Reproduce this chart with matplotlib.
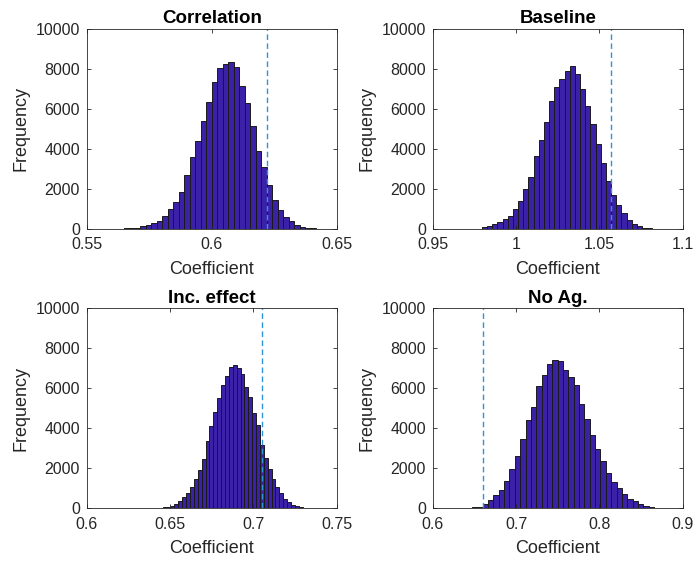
import matplotlib.pyplot as plt
import numpy as np

plt.rcParams['font.family'] = ['Liberation Sans', 'DejaVu Sans']

# histogram counts (tiny tails included)
corr_counts = [3, 6, 12, 25, 40,
               70, 130, 200, 300, 420, 640, 1000, 1370, 1870, 2690, 3580, 4400,
               5380, 6340, 7370, 8030, 8240, 8360, 8090, 7140, 6290, 5150, 3880,
               3110, 2190, 1470, 970, 600, 385, 220, 100, 50,
               25, 10, 4, 2]
corr_start = 0.5693 - 5 * 0.0022
corr_width = 0.0022
corr_line = 0.622

base_counts = [2, 5, 10,
               15, 80, 130, 230, 350, 480, 650, 990, 1420, 1990, 2590, 3630,
               4430, 5370, 6420, 7090, 7490, 7890, 8130, 7760, 7020, 6170, 5230,
               4230, 3280, 2390, 1720, 1190, 790, 430, 270, 130, 70, 35,
               15, 6, 2]
base_start = 0.9764 - 3 * 0.0031
base_width = 0.0031
base_line = 1.057

inc_counts = [2, 3, 5, 8, 15, 30, 50,
              80, 130, 200, 350, 550, 780, 1080, 1470, 1900, 2470, 3380, 4130,
              4800, 5520, 6150, 6630, 7050, 7180, 7000, 6730, 6080, 5550, 4780,
              4150, 3180, 2530, 1970, 1480, 1080, 780, 480, 320, 180, 100, 50,
              25, 12, 6, 3, 2]
inc_start = 0.648 - 7 * 0.00233
inc_width = 0.00233
inc_line = 0.705

noag_counts = [2, 4, 8, 15, 30, 50,
               80, 230, 400, 670, 920, 1350, 1950, 2630, 3450, 4400, 5080, 6120,
               6650, 7200, 7400, 7370, 6920, 6550, 6170, 5220, 4450, 3680, 2950,
               2350, 1770, 1300, 1020, 730, 470, 350, 220, 120, 70, 35,
               15, 8, 4, 2]
noag_start = 0.65358 - 6 * 0.00642
noag_width = 0.00642
noag_line = 0.66

titles = ['Correlation', 'Baseline', 'Inc. effect', 'No Ag.']
xlims = [(0.55, 0.65), (0.95, 1.1), (0.6, 0.75), (0.6, 0.9)]
xticks = [[0.55, 0.6, 0.65], [0.95, 1, 1.05, 1.1],
          [0.6, 0.65, 0.7, 0.75], [0.6, 0.7, 0.8, 0.9]]
xticklabels = [['0.55', '0.6', '0.65'], ['0.95', '1', '1.05', '1.1'],
               ['0.6', '0.65', '0.7', '0.75'], ['0.6', '0.7', '0.8', '0.9']]
yticks = [0, 2000, 4000, 6000, 8000, 10000]

panels = [(corr_counts, corr_start, corr_width, corr_line),
          (base_counts, base_start, base_width, base_line),
          (inc_counts, inc_start, inc_width, inc_line),
          (noag_counts, noag_start, noag_width, noag_line)]

# axes boxes [left, bottom, width, height] in figure fractions
boxes = [[0.1246, 0.5947, 0.3592, 0.354],
         [0.6217, 0.5947, 0.3593, 0.354],
         [0.1246, 0.1003, 0.3592, 0.354],
         [0.6217, 0.1003, 0.3593, 0.354]]

bar_color = '#3b20a8'
line_color = '#2f93db'
axis_color = '#262626'

fig = plt.figure(figsize=(6.96, 5.65), dpi=100)

for i in range(4):
    counts, start, width, vline = panels[i]
    ax = fig.add_axes(boxes[i])
    lefts = start + width * np.arange(len(counts))
    ax.bar(lefts, counts, width=width, align='edge', color=bar_color,
           edgecolor='#1a1a1a', linewidth=0.7)
    ax.axvline(vline, color=line_color, linestyle=(0, (4, 2.5)), linewidth=1.0)

    ax.set_xlim(xlims[i])
    ax.set_ylim(0, 10000)
    ax.set_xticks(xticks[i])
    ax.set_xticklabels(xticklabels[i])
    ax.set_yticks(yticks)
    ax.set_title(titles[i], fontsize=13.5, fontweight='bold', pad=4)
    ax.set_xlabel('Coefficient', fontsize=13, color=axis_color, labelpad=6)
    ax.set_ylabel('Frequency', fontsize=13, color=axis_color, labelpad=4)
    ax.tick_params(direction='in', top=True, right=True, length=3,
                   width=0.6, labelsize=11.5, colors=axis_color)
    ax.tick_params(axis='x', pad=6)
    ax.tick_params(axis='y', pad=5)
    for s in ax.spines.values():
        s.set_color(axis_color)
        s.set_linewidth(0.6)

fig.savefig('out.png', dpi=100)
